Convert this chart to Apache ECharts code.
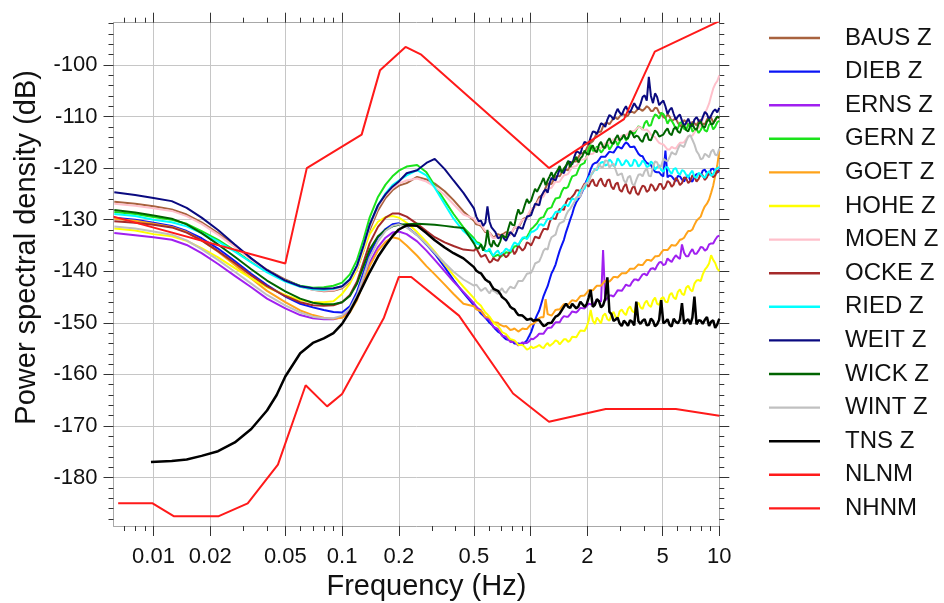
<!DOCTYPE html>
<html>
<head>
<meta charset="utf-8">
<title>Power spectral density</title>
<script src="https://cdn.jsdelivr.net/npm/echarts@6/dist/echarts.min.js"></script>
<style>
  html, body { margin: 0; padding: 0; background: #ffffff; }
  #chart { width: 944px; height: 603px; }
</style>
</head>
<body>
<div id="chart"></div>
<script>
// Frequency grids (Hz)
const freqLow = [0.0062, 0.008, 0.01, 0.0125, 0.015, 0.018, 0.022, 0.027, 0.033, 0.04, 0.05, 0.06, 0.07, 0.08, 0.09, 0.1, 0.11, 0.12, 0.13, 0.14, 0.155, 0.17, 0.185, 0.2, 0.22, 0.25, 0.28, 0.31, 0.35, 0.39, 0.44];
const freqHigh = [0.50, 0.53, 0.56, 0.59, 0.62, 0.65, 0.69, 0.72, 0.76, 0.80, 0.84, 0.88, 0.93, 0.98,
  1.03, 1.08, 1.14, 1.20, 1.26, 1.32, 1.39, 1.46, 1.54, 1.62, 1.70, 1.79, 1.88, 1.98,
  2.08, 2.19, 2.30, 2.42, 2.55, 2.68, 2.82, 2.96,
  3.12, 3.28, 3.45, 3.63, 3.82, 4.02, 4.23, 4.45, 4.68, 4.92,
  5.18, 5.45, 5.73, 6.03, 6.34, 6.67, 7.02, 7.38, 7.77, 8.17, 8.60, 9.05, 9.51, 10.0];
// in-between samples of the high band
const freqMid = [0.515, 0.545, 0.575, 0.605, 0.635, 0.67, 0.705, 0.74, 0.78, 0.82, 0.86, 0.905, 0.955, 1.005,
  1.055, 1.11, 1.17, 1.23, 1.29, 1.355, 1.425, 1.50, 1.58, 1.66, 1.745, 1.835, 1.93, 2.03,
  2.135, 2.245, 2.36, 2.485, 2.615, 2.75, 2.89, 3.04,
  3.20, 3.365, 3.54, 3.725, 3.92, 4.125, 4.34, 4.565, 4.80, 5.05,
  5.315, 5.59, 5.88, 6.185, 6.505, 6.845, 7.20, 7.575, 7.97, 8.385, 8.825, 9.28, 9.755];
const tnsFreqLow = [0.0097, 0.0125, 0.015, 0.018, 0.022, 0.027, 0.033, 0.04, 0.045, 0.05, 0.06, 0.07, 0.08, 0.09, 0.1, 0.11, 0.12, 0.13, 0.14, 0.155, 0.17, 0.185, 0.2, 0.22, 0.25, 0.28, 0.31, 0.35, 0.39, 0.44];

// Station PSD levels (dB)
const bausLow = [-126.5, -126.9, -127.4, -128.0, -129.0, -130.5, -132.6, -135.0, -137.6, -139.7, -141.6, -142.9, -143.6, -143.9, -143.8, -143.3, -142.0, -139.6, -136.0, -132.0, -128.2, -125.8, -124.3, -123.4, -122.9, -121.7, -122.2, -123.0, -124.5, -126.2, -128.4];
const bausHigh = [-130.2, -131.0, -131.8, -132.5, -133.0, -133.3, -133.0, -132.7, -132.6, -132.3, -131.5, -130.9, -129.7, -128.9,
  -127.8, -126.5, -125.3, -123.8, -122.9, -122.3, -121.5, -120.9, -120.3, -119.4, -118.6, -117.9, -117.1, -116.2,
  -115.1, -114.0, -112.8, -111.9, -111.2, -110.9, -110.2, -110.0,
  -109.6, -109.8, -109.1, -108.9, -108.6, -108.5, -108.3, -108.9, -108.4, -109.4,
  -110.3, -110.0, -110.6, -111.2, -111.5, -111.0, -111.7, -111.3, -110.9, -111.4, -110.6, -110.2, -110.8, -110.3];
const bausMid = [-130.9, -131.2, -132.4, -132.5, -133.5, -132.8, -133.3, -132.4, -132.9, -131.5, -131.6, -130.0, -129.6, -128.1,
  -127.4, -125.6, -124.9, -123.0, -123.1, -121.6, -121.6, -120.3, -120.4, -118.7, -118.7, -117.2, -117.0, -115.4,
  -114.8, -113.1, -112.9, -111.3, -111.5, -110.3, -110.5, -109.5,
  -110.0, -109.1, -109.3, -108.4, -108.9, -108.0, -108.9, -108.3, -109.3, -110.1,
  -109.6, -110.9, -110.4, -111.9, -110.7, -111.8, -111.0, -111.7, -110.6, -111.5, -110.0, -111.1, -110.0];

const diebLow = [-129.6, -130.0, -130.6, -131.2, -132.2, -133.6, -135.6, -138.0, -140.5, -142.7, -144.9, -146.3, -147.0, -147.5, -147.9, -148.0, -146.8, -144.0, -140.2, -136.6, -133.4, -131.8, -130.9, -130.7, -131.4, -133.0, -134.8, -136.6, -139.2, -141.7, -144.2];
const diebHigh = [-146.6, -147.6, -148.6, -149.5, -150.3, -151.2, -152.0, -152.8, -153.3, -153.6, -154.0, -154.3, -153.8, -152.6,
  -150.7, -148.5, -146.2, -143.8, -141.6, -139.7, -137.3, -135.0, -132.4, -130.0, -127.6, -126.0, -124.5, -122.4,
  -120.2, -119.0, -118.4, -117.8, -117.3, -116.9, -116.4, -116.0,
  -115.5, -115.3, -115.9, -116.5, -117.6, -118.5, -119.2, -120.1, -120.8, -121.3,
  -116.6, -121.4, -122.1, -121.5, -122.2, -121.8, -122.4, -121.6, -121.1, -120.5, -121.0, -120.2, -120.7, -120.3];
const diebMid = [-147.0, -148.2, -149.0, -150.0, -150.6, -151.7, -152.3, -153.2, -153.3, -154.0, -154.0, -154.2, -153.4, -151.8,
  -149.4, -147.6, -144.8, -142.9, -140.4, -138.7, -136.0, -133.9, -131.2, -128.9, -126.6, -125.4, -123.3, -121.4,
  -119.3, -118.9, -117.8, -117.8, -116.8, -117.0, -115.8, -116.2,
  -115.0, -115.9, -115.8, -117.2, -117.7, -119.0, -119.4, -120.7, -120.8, -121.6,
  -121.8, -121.6, -122.5, -121.6, -122.6, -121.4, -122.6, -121.2, -121.5, -120.3, -121.3, -120.1, -120.9];

const ernsLow = [-132.6, -133.0, -133.4, -133.9, -134.9, -136.5, -138.6, -140.9, -143.1, -145.3, -147.2, -148.5, -149.1, -149.3, -149.3, -148.9, -147.6, -145.2, -141.8, -138.4, -135.3, -133.5, -132.5, -132.3, -132.8, -134.2, -136.0, -137.8, -140.0, -142.0, -144.0];
const ernsHigh = [-146.2, -147.3, -148.3, -149.2, -150.1, -151.0, -151.9, -152.6, -153.2, -153.7, -154.0, -154.1, -153.9, -153.6,
  -153.2, -152.6, -152.1, -151.5, -150.9, -150.4, -149.9, -149.2, -148.8, -148.3, -147.9, -147.6, -147.1, -146.8,
  -146.4, -146.1, -145.6, -135.9, -145.2, -144.7, -144.3, -143.8,
  -143.2, -142.8, -142.1, -141.6, -141.2, -140.5, -140.1, -139.4, -138.9, -138.2,
  -138.6, -137.9, -137.5, -137.3, -134.8, -137.1, -136.3, -136.6, -136.0, -135.4, -135.7, -134.6, -133.9, -133.1];
const ernsMid = [-146.9, -147.6, -149.0, -149.4, -150.8, -151.2, -152.5, -152.7, -153.7, -153.6, -154.4, -153.8, -153.9, -153.1,
  -153.2, -152.1, -152.1, -151.0, -150.9, -149.9, -149.9, -148.7, -148.8, -147.8, -148.0, -147.1, -147.2, -146.3,
  -146.5, -145.6, -145.9, -145.7, -144.7, -144.9, -143.7, -143.8,
  -142.6, -142.8, -141.6, -141.8, -140.6, -140.8, -139.5, -139.7, -138.3, -138.8,
  -137.5, -138.2, -136.9, -137.6, -136.4, -137.1, -135.7, -136.6, -135.3, -136.0, -134.8, -134.6, -133.3];

const gernLow = [-128.5, -128.9, -129.5, -130.0, -130.8, -132.2, -133.9, -136.0, -138.2, -140.0, -141.8, -142.8, -143.2, -143.1, -142.8, -142.2, -140.6, -137.8, -133.8, -129.6, -125.6, -123.2, -121.6, -120.5, -119.7, -119.4, -120.8, -123.4, -126.3, -128.9, -131.5];
const gernHigh = [-133.6, -134.5, -135.5, -136.1, -136.6, -137.0, -137.2, -136.8, -136.4, -135.8, -135.1, -134.3, -133.5, -132.6,
  -131.5, -130.7, -129.6, -128.6, -127.8, -126.7, -125.8, -124.6, -123.9, -122.5, -121.5, -120.3, -119.4, -117.6,
  -115.5, -116.8, -116.2, -116.5, -115.3, -115.8, -114.6, -114.9,
  -113.7, -114.2, -113.0, -112.6, -112.1, -111.3, -111.8, -110.4, -109.8, -109.3,
  -110.2, -110.6, -111.5, -112.3, -111.1, -112.6, -111.4, -112.7, -113.2, -111.8, -112.9, -111.3, -112.0, -110.8];
const gernMid = [-134.3, -134.8, -136.0, -136.0, -137.2, -136.8, -137.4, -136.3, -136.4, -135.2, -135.0, -133.7, -133.4, -131.8,
  -131.4, -129.9, -129.5, -127.9, -127.6, -125.9, -125.7, -123.8, -123.6, -121.6, -121.3, -119.4, -119.0, -116.2,
  -116.6, -115.8, -117.0, -115.6, -116.4, -114.9, -115.6, -113.9,
  -114.6, -113.3, -113.4, -111.9, -112.5, -110.8, -111.7, -109.6, -110.4, -109.5,
  -111.4, -110.8, -112.4, -111.2, -112.4, -111.5, -112.9, -112.4, -112.6, -112.7, -111.6, -112.5, -111.1];

const goetLow = [-129.8, -130.2, -130.8, -131.4, -132.4, -134.0, -136.2, -138.8, -141.4, -143.8, -146.0, -147.6, -148.5, -149.0, -149.2, -149.0, -148.0, -145.6, -142.2, -139.0, -136.0, -134.3, -133.4, -133.7, -135.0, -137.0, -139.0, -140.6, -142.6, -144.4, -146.3];
const goetHigh = [-146.8, -147.6, -148.2, -148.9, -149.5, -149.9, -150.4, -150.7, -151.0, -151.3, -151.4, -151.5, -151.2, -150.7,
  -150.2, -149.6, -148.9, -145.4, -148.6, -148.1, -147.4, -146.9, -146.4, -146.0, -145.7, -145.3, -144.8, -144.2,
  -143.8, -143.2, -142.8, -142.3, -142.0, -141.6, -141.1, -140.9,
  -140.4, -140.0, -139.5, -139.1, -138.8, -138.3, -137.8, -137.6, -137.1, -136.4,
  -135.9, -135.4, -135.0, -134.5, -133.8, -132.8, -132.2, -131.0, -129.8, -128.3, -126.9, -124.8, -121.5, -116.6];
const goetMid = [-147.4, -147.7, -148.8, -149.0, -149.9, -150.0, -150.7, -150.6, -151.4, -151.1, -151.7, -151.1, -151.2, -150.3,
  -150.1, -149.1, -148.9, -148.3, -148.6, -147.5, -147.4, -146.4, -146.5, -145.6, -145.8, -144.8, -144.7, -143.7,
  -143.7, -142.8, -142.8, -141.8, -142.0, -141.1, -141.2, -140.4,
  -140.4, -139.5, -139.5, -138.7, -138.8, -137.8, -138.0, -137.1, -137.0, -135.9,
  -135.9, -134.9, -135.0, -133.9, -133.5, -132.2, -131.9, -130.2, -129.4, -127.4, -126.1, -123.4, -119.5];

const hoheLow = [-131.7, -132.1, -132.8, -133.2, -134.1, -135.5, -137.3, -139.4, -141.4, -143.1, -144.6, -145.6, -146.0, -146.0, -145.8, -144.4, -142.4, -139.6, -136.0, -132.8, -130.4, -129.5, -129.3, -129.6, -130.6, -132.4, -134.3, -136.2, -138.6, -140.8, -143.0];
const hoheHigh = [-145.2, -146.3, -147.4, -148.4, -149.4, -150.3, -151.2, -152.0, -152.7, -153.3, -153.8, -154.3, -154.7, -155.0,
  -154.9, -154.6, -154.7, -154.3, -154.5, -153.9, -153.6, -153.9, -153.2, -153.4, -152.6, -152.1, -151.5, -150.8,
  -147.5, -150.2, -149.5, -148.6, -149.3, -148.4, -148.9, -147.8,
  -148.1, -147.3, -147.7, -146.6, -147.0, -146.2, -146.6, -145.7, -146.3, -145.3,
  -145.9, -144.6, -145.1, -144.0, -144.4, -143.2, -143.6, -142.4, -141.7, -140.6, -139.2, -136.9, -138.4, -140.0];
const hoheMid = [-145.9, -146.7, -148.0, -148.8, -150.0, -150.6, -151.8, -152.2, -153.2, -153.4, -154.3, -154.3, -155.2, -154.6,
  -155.1, -154.3, -154.9, -153.9, -154.6, -153.4, -154.2, -153.2, -153.7, -152.7, -152.8, -151.5, -151.6, -149.6,
  -149.6, -149.0, -150.1, -148.2, -149.6, -147.9, -149.2, -147.4,
  -148.5, -146.8, -148.0, -146.1, -147.3, -145.7, -146.9, -145.1, -146.5, -145.0,
  -146.0, -144.2, -145.4, -143.5, -144.6, -142.8, -143.9, -141.8, -141.9, -139.7, -138.5, -137.8, -139.5];

const moenLow = [-126.9, -127.3, -127.8, -128.3, -129.3, -130.8, -132.9, -135.3, -137.8, -139.9, -141.8, -143.0, -143.6, -143.8, -143.7, -143.1, -141.8, -139.3, -135.6, -131.5, -127.6, -125.3, -123.9, -123.0, -122.4, -122.0, -122.6, -123.6, -125.2, -127.0, -129.0];
const moenHigh = [-129.8, -130.8, -131.6, -132.3, -133.2, -133.7, -133.4, -133.1, -132.9, -132.2, -131.6, -130.7, -129.9, -128.6,
  -127.9, -126.9, -125.8, -124.7, -123.9, -123.2, -122.7, -122.0, -121.3, -120.4, -119.6, -119.1, -118.2, -117.9,
  -117.2, -116.8, -116.1, -115.7, -115.2, -114.8, -114.5, -114.2,
  -113.6, -113.3, -112.8, -112.4, -112.1, -112.6, -112.9, -113.8, -114.6, -115.3,
  -115.9, -116.4, -116.1, -115.6, -115.1, -114.4, -113.8, -113.1, -112.2, -110.6, -108.5, -106.0, -103.7, -102.0];
const moenMid = [-130.5, -130.9, -132.2, -132.5, -133.6, -133.3, -133.5, -132.7, -132.8, -131.6, -131.4, -130.0, -129.5, -127.9,
  -127.6, -126.1, -125.5, -124.0, -123.8, -122.6, -122.6, -121.4, -121.1, -119.8, -119.6, -118.4, -118.3, -117.3,
  -117.2, -116.2, -116.1, -115.2, -115.2, -114.4, -114.6, -113.7,
  -113.6, -112.8, -112.8, -112.0, -112.5, -112.5, -113.5, -114.0, -115.1, -115.4,
  -116.4, -115.9, -116.2, -115.1, -115.0, -113.8, -113.7, -112.4, -111.7, -109.4, -107.5, -104.6, -103.1];

const ockeLow = [-130.3, -130.6, -131.0, -131.5, -132.5, -134.0, -136.1, -138.4, -140.8, -142.9, -144.8, -146.0, -146.6, -146.7, -146.6, -146.0, -144.6, -142.0, -138.2, -134.6, -131.4, -129.6, -128.8, -128.8, -129.4, -130.8, -132.2, -133.4, -134.4, -135.1, -135.8];
const ockeHigh = [-136.0, -136.4, -137.0, -137.6, -138.1, -137.8, -137.2, -136.5, -136.9, -135.8, -136.1, -135.2, -135.5, -134.6,
  -134.2, -133.4, -132.6, -131.8, -130.5, -129.6, -128.7, -127.8, -126.6, -126.0, -125.1, -124.3, -123.8, -123.2,
  -122.7, -123.3, -122.5, -123.1, -122.4, -123.6, -123.1, -124.2,
  -123.6, -124.5, -123.9, -124.8, -124.2, -123.6, -124.3, -123.5, -124.0, -123.1,
  -123.6, -122.8, -123.2, -122.4, -122.9, -122.0, -122.5, -121.7, -122.1, -121.4, -121.8, -121.0, -121.4, -120.8];
const ockeMid = [-135.6, -137.2, -136.8, -138.3, -137.4, -138.0, -136.4, -137.3, -135.9, -136.7, -135.0, -136.0, -134.4, -135.0,
  -133.3, -133.6, -131.8, -131.9, -129.6, -129.9, -127.9, -128.1, -125.9, -126.1, -124.3, -124.5, -123.0, -123.6,
  -122.2, -123.5, -122.0, -123.6, -122.2, -124.1, -122.8, -124.6,
  -123.0, -125.0, -123.4, -125.2, -123.4, -124.6, -123.1, -124.4, -123.1, -124.1,
  -122.5, -123.6, -121.9, -123.3, -121.8, -122.9, -121.4, -122.6, -121.2, -122.3, -120.8, -121.8, -120.5];

const riedLow = [-128.9, -129.3, -130.0, -130.5, -131.3, -132.6, -134.2, -136.2, -138.3, -140.2, -142.0, -143.0, -143.5, -143.6, -143.4, -142.9, -141.5, -138.9, -135.0, -131.0, -127.2, -124.9, -123.3, -122.4, -121.4, -120.4, -121.4, -123.8, -127.0, -129.8, -132.2];
const riedHigh = [-134.0, -134.8, -135.6, -136.1, -136.5, -136.4, -136.8, -136.2, -135.9, -135.1, -134.6, -134.2, -133.4, -133.1,
  -132.3, -131.8, -130.9, -130.5, -129.6, -129.2, -128.4, -127.8, -127.1, -126.6, -126.0, -125.1, -124.2, -122.8,
  -121.4, -120.1, -119.6, -118.8, -119.3, -118.7, -119.4, -118.6,
  -119.2, -118.8, -119.5, -118.7, -119.3, -118.9, -119.6, -119.1, -119.8, -120.4,
  -119.9, -120.6, -120.2, -120.9, -120.4, -121.3, -121.0, -121.7, -120.9, -121.6, -121.0, -121.5, -120.4, -119.8];
const riedMid = [-134.6, -135.0, -136.1, -135.6, -137.0, -136.0, -137.1, -135.6, -136.1, -134.4, -134.9, -133.5, -133.8, -132.4,
  -132.5, -131.0, -131.2, -129.8, -129.9, -128.5, -128.6, -127.2, -127.4, -125.9, -126.2, -124.3, -124.0, -121.9,
  -120.9, -120.4, -118.9, -119.5, -118.3, -119.6, -118.1, -119.5,
  -118.4, -119.6, -118.3, -119.7, -118.5, -119.8, -118.7, -120.3, -119.4, -120.7,
  -119.8, -121.1, -120.0, -121.3, -120.6, -121.8, -120.5, -121.9, -121.2, -121.9, -120.6, -121.2, -120.0];

const weitLow = [-124.7, -125.2, -125.8, -126.4, -127.7, -129.6, -132.0, -134.8, -137.5, -139.8, -141.8, -142.9, -143.3, -143.4, -143.3, -142.9, -141.6, -138.9, -135.0, -131.0, -127.2, -125.1, -123.6, -122.6, -121.0, -120.4, -119.0, -118.2, -120.2, -122.4, -124.8];
const weitHigh = [-127.8, -130.3, -131.2, -127.4, -131.5, -132.4, -133.4, -133.6, -133.2, -132.8, -132.4, -131.6, -130.5, -129.3,
  -128.0, -126.9, -125.4, -124.1, -122.9, -122.0, -121.3, -120.4, -119.7, -118.8, -117.9, -116.9, -115.9, -115.1,
  -114.0, -113.0, -112.4, -111.5, -110.6, -110.0, -109.4, -109.2,
  -108.7, -108.9, -108.3, -108.1, -107.6, -105.9, -102.3, -107.4, -106.2, -107.3,
  -108.0, -108.7, -109.5, -110.0, -110.8, -111.2, -111.4, -110.6, -110.8, -110.1, -109.5, -109.8, -108.6, -108.3];
const weitMid = [-129.4, -130.2, -130.6, -130.4, -131.2, -133.6, -132.9, -134.1, -132.4, -133.3, -131.4, -131.8, -129.4, -129.1,
  -126.9, -127.2, -124.6, -124.8, -121.9, -122.4, -120.2, -121.0, -118.7, -119.3, -116.8, -117.2, -114.9, -115.3,
  -112.9, -113.4, -111.3, -112.0, -109.7, -110.6, -108.5, -109.7,
  -108.0, -109.2, -107.4, -108.6, -106.2, -106.9, -106.0, -105.5, -107.8, -106.9,
  -109.5, -108.3, -110.6, -109.6, -111.8, -110.4, -111.9, -110.1, -111.2, -109.1, -110.6, -109.0, -109.2];

const wickLow = [-128.1, -128.6, -129.2, -129.8, -130.9, -132.6, -134.8, -137.2, -139.6, -141.8, -143.9, -145.3, -146.1, -146.4, -146.4, -146.0, -144.8, -142.4, -139.0, -135.8, -133.2, -132.0, -131.3, -131.0, -130.9, -130.8, -130.9, -131.0, -131.2, -131.4, -131.6];
const wickHigh = [-134.6, -135.6, -136.0, -132.0, -135.3, -134.8, -134.2, -133.2, -131.8, -131.0, -129.3, -128.9, -127.2, -126.8,
  -125.1, -124.6, -122.8, -123.3, -121.6, -121.9, -120.4, -120.9, -119.5, -119.8, -118.6, -118.9, -117.7, -117.2,
  -116.2, -116.6, -115.5, -115.9, -114.8, -115.1, -114.2, -114.6,
  -113.5, -114.2, -113.2, -113.7, -114.6, -113.8, -114.5, -113.6, -113.1, -113.7,
  -112.8, -113.3, -112.4, -112.9, -112.0, -112.6, -111.8, -112.3, -111.4, -111.9, -111.0, -111.5, -110.6, -110.2];
const wickMid = [-135.5, -134.8, -134.9, -134.6, -134.0, -135.2, -133.0, -133.5, -130.4, -131.1, -128.0, -128.6, -126.0, -126.3,
  -124.0, -123.7, -121.9, -122.4, -120.8, -121.0, -119.6, -120.1, -118.6, -119.0, -117.8, -118.1, -116.6, -117.4,
  -115.6, -116.9, -114.9, -116.1, -114.2, -115.3, -113.6, -114.3,
  -114.3, -112.8, -114.1, -113.9, -114.9, -113.2, -114.6, -112.7, -113.9, -113.5,
  -112.3, -113.6, -112.0, -113.2, -111.7, -112.9, -111.3, -112.6, -111.0, -112.1, -110.5, -111.4, -110.0];

const wintLow = [-131.3, -131.7, -132.3, -132.9, -134.0, -135.7, -137.8, -140.1, -142.4, -144.6, -146.6, -148.0, -148.8, -149.1, -149.1, -148.6, -147.2, -144.6, -141.0, -137.4, -134.2, -132.2, -131.2, -130.9, -131.5, -133.0, -134.7, -136.4, -138.4, -140.1, -141.6];
const wintHigh = [-142.8, -143.2, -143.5, -143.8, -143.6, -144.0, -143.7, -143.9, -143.5, -143.2, -142.6, -142.0, -141.2, -140.4,
  -139.5, -138.2, -137.1, -135.6, -134.3, -133.1, -131.5, -130.4, -129.1, -127.9, -126.6, -125.6, -124.2, -122.9,
  -121.6, -120.4, -119.0, -119.8, -118.6, -119.4, -120.3, -121.2,
  -122.4, -121.8, -123.0, -122.3, -121.2, -120.6, -121.5, -119.8, -118.9, -119.6,
  -118.5, -117.9, -117.2, -116.3, -115.7, -114.8, -113.6, -115.4, -117.3, -118.1, -117.5, -116.8, -117.4, -116.2];
const wintMid = [-142.6, -143.8, -143.2, -144.3, -143.4, -144.4, -143.3, -144.2, -143.0, -143.3, -141.9, -141.9, -140.5, -140.3,
  -138.5, -138.1, -136.0, -135.8, -133.4, -132.9, -130.7, -130.3, -128.3, -127.8, -125.7, -125.5, -123.3, -122.8,
  -120.7, -120.1, -119.8, -118.5, -119.9, -119.1, -121.4, -121.0,
  -122.9, -121.5, -123.4, -121.3, -121.6, -120.0, -121.6, -118.7, -119.9, -118.2,
  -118.7, -116.9, -117.4, -115.5, -115.9, -113.9, -114.5, -116.7, -118.3, -117.2, -117.9, -116.4, -117.5];

const tnsLow = [-177.0, -176.8, -176.5, -175.8, -174.9, -173.2, -170.6, -167.0, -164.0, -160.4, -155.9, -153.9, -153.0, -152.0, -150.2, -147.8, -145.2, -142.6, -140.2, -137.2, -135.0, -133.2, -131.9, -131.1, -131.2, -132.6, -134.0, -135.4, -136.5, -137.5];
const tnsHigh = [-139.2, -140.2, -141.0, -141.9, -142.8, -143.6, -144.4, -145.3, -146.2, -147.2, -148.0, -148.6, -149.0, -149.3,
  -149.6, -149.4, -150.1, -150.5, -150.2, -149.4, -148.6, -147.6, -146.3, -147.1, -146.2, -146.8, -145.7, -146.4,
  -143.6, -146.5, -145.8, -146.6, -141.2, -148.3, -149.4, -150.1,
  -149.6, -150.6, -149.8, -145.9, -150.2, -149.3, -150.4, -149.6, -150.3, -145.6,
  -149.8, -150.4, -149.2, -150.1, -146.2, -149.6, -150.3, -144.9, -149.5, -150.2, -148.9, -149.8, -151.0, -149.2];
const tnsMid = [-139.9, -140.4, -141.6, -142.1, -143.4, -143.8, -145.0, -145.6, -146.9, -147.4, -148.5, -148.6, -149.4, -149.2,
  -149.9, -149.5, -150.6, -150.1, -150.0, -148.8, -148.2, -146.9, -146.9, -146.3, -147.2, -145.9, -146.9, -145.1,
  -146.9, -145.4, -147.0, -145.3, -147.9, -149.6, -149.0, -150.6,
  -150.0, -149.5, -150.5, -149.7, -149.6, -150.5, -149.2, -150.7, -149.4, -150.1,
  -149.3, -150.7, -149.8, -149.4, -150.2, -149.3, -149.0, -150.3, -149.6, -149.4, -150.6, -149.5, -150.3];

// Peterson noise models
const nlnmFreq = [0.0065, 0.0099, 0.0128, 0.0222, 0.0316, 0.0457, 0.0641, 0.0833, 0.1, 0.1667, 0.2, 0.2326, 0.4167, 0.8065, 1.25, 2.5, 5.88, 10];
const nlnmValues = [-185, -185, -187.5, -187.5, -185, -177.5, -162.1, -166.2, -163.8, -149, -141.1, -141.1, -148.6, -163.7, -169.2, -166.7, -166.7, -168];
const nhnmFreq = [0.00614, 0.05, 0.065, 0.127, 0.159, 0.217, 0.263, 1.25, 3.125, 4.55, 10];
const nhnmValues = [-129.4, -138.5, -120, -113.5, -101, -96.5, -98, -120, -110.5, -97.4, -91.5];

// Axis ticks
const freqMajorTicks = [0.01, 0.02, 0.05, 0.1, 0.2, 0.5, 1, 2, 5, 10];
const freqMinorTicks = [0.007, 0.008, 0.009, 0.03, 0.04, 0.06, 0.07, 0.08, 0.09, 0.3, 0.4, 0.6, 0.7, 0.8, 0.9, 3, 4, 6, 7, 8, 9];
const dbMajorTicks = [-180, -170, -160, -150, -140, -130, -120, -110, -100];
const dbMinorTicks = [-188, -186, -184, -182, -178, -176, -174, -172, -168, -166, -164, -162, -158, -156, -154, -152, -148, -146, -144, -142, -138, -136, -134, -132, -128, -126, -124, -122, -118, -116, -114, -112, -108, -106, -104, -102, -98, -96, -94, -92];

const stations = [
  { name: 'BAUS Z', low: bausLow, high: bausHigh, mid: bausMid },
  { name: 'DIEB Z', low: diebLow, high: diebHigh, mid: diebMid },
  { name: 'ERNS Z', low: ernsLow, high: ernsHigh, mid: ernsMid },
  { name: 'GERN Z', low: gernLow, high: gernHigh, mid: gernMid },
  { name: 'GOET Z', low: goetLow, high: goetHigh, mid: goetMid },
  { name: 'HOHE Z', low: hoheLow, high: hoheHigh, mid: hoheMid },
  { name: 'MOEN Z', low: moenLow, high: moenHigh, mid: moenMid },
  { name: 'OCKE Z', low: ockeLow, high: ockeHigh, mid: ockeMid },
  { name: 'RIED Z', low: riedLow, high: riedHigh, mid: riedMid },
  { name: 'WEIT Z', low: weitLow, high: weitHigh, mid: weitMid },
  { name: 'WICK Z', low: wickLow, high: wickHigh, mid: wickMid },
  { name: 'WINT Z', low: wintLow, high: wintHigh, mid: wintMid }
];

const lineColors = {
  'BAUS Z': '#a8623e', 'DIEB Z': '#0a14f5', 'ERNS Z': '#a020f0', 'GERN Z': '#1be31b',
  'GOET Z': '#ffa31a', 'HOHE Z': '#ffff00', 'MOEN Z': '#ffc0cb', 'OCKE Z': '#a52a2a',
  'RIED Z': '#00ffff', 'WEIT Z': '#0a0a80', 'WICK Z': '#006400', 'WINT Z': '#c0c0c0',
  'TNS Z': '#000000', 'NLNM': '#ff1a1a', 'NHNM': '#ff1a1a'
};

const zip = (fs, vs) => {
  if (fs.length !== vs.length) throw new Error('length mismatch ' + fs.length + ' vs ' + vs.length);
  return fs.map((f, i) => [f, vs[i]]);
};
// alternate the regular high-band samples with the in-between ones
function interleave(a, b) {
  if (b.length !== a.length - 1) throw new Error('mid length ' + b.length);
  const out = [];
  a.forEach((v, i) => { out.push(v); if (i < b.length) out.push(b[i]); });
  return out;
}
const highFreqs = interleave(freqHigh, freqMid);

const series = stations.map(s => ({
  name: s.name,
  data: zip(freqLow.concat(highFreqs), s.low.concat(interleave(s.high, s.mid))),
  width: 2
}));
series.push({ name: 'TNS Z', data: zip(tnsFreqLow.concat(highFreqs), tnsLow.concat(interleave(tnsHigh, tnsMid))), width: 2.5 });
series.push({ name: 'NLNM', data: zip(nlnmFreq, nlnmValues), width: 2 });
series.push({ name: 'NHNM', data: zip(nhnmFreq, nhnmValues), width: 2 });

const xMin = 0.00614, xMax = 10;
const yMin = -189.4, yMax = -91.8;
const lg = Math.log10;
const FONT = 'Liberation Sans, Arial, sans-serif';
const frameColor = '#a8a8a8';
const gridColor = '#c6c6c6';
const tickColor = '#333333';

function freqLabel(v) {
  return String(parseFloat(Math.pow(10, v).toPrecision(6)));
}

function xDecor(position, ticks, len, opts) {
  return Object.assign({
    type: 'value', position: position, min: lg(xMin), max: lg(xMax),
    axisLine: { show: false, onZero: false },
    axisTick: { show: true, inside: false, length: len, customValues: ticks.map(lg), lineStyle: { color: tickColor, width: 1 } },
    axisLabel: { show: false },
    splitLine: { show: false }
  }, opts || {});
}
function yDecor(position, ticks, len, opts) {
  return Object.assign({
    type: 'value', position: position, min: yMin, max: yMax,
    axisLine: { show: false, onZero: false },
    axisTick: { show: true, inside: false, length: len, customValues: ticks, lineStyle: { color: tickColor, width: 1 } },
    axisLabel: { show: false },
    splitLine: { show: false }
  }, opts || {});
}
const frameLine = { show: true, onZero: false, lineStyle: { color: frameColor, width: 1 } };

const chart = echarts.init(document.getElementById('chart'), null, { renderer: 'canvas' });
chart.setOption({
  animation: false,
  backgroundColor: '#ffffff',
  textStyle: { fontFamily: FONT },
  grid: { left: 113.5, right: 224.7, top: 22.7, bottom: 77, containLabel: false, outerBoundsMode: 'none' },
  legend: {
    orient: 'vertical', left: 769, top: 25, padding: 0,
    itemWidth: 51, itemHeight: 14, itemGap: 7.6,
    selectedMode: false,
    icon: 'path://M0,5.8 L51,5.8 L51,8.2 L0,8.2 Z',
    textStyle: { fontSize: 24, color: '#111111', lineHeight: 26, padding: [0, 0, 0, 20], fontFamily: FONT },
    data: series.map(s => s.name)
  },
  xAxis: [
    { type: 'log', logBase: 10, min: xMin, max: xMax, show: false },
    xDecor('bottom', freqMajorTicks, 10, {
      axisLine: frameLine,
      axisLabel: { show: true, customValues: freqMajorTicks.map(lg), formatter: freqLabel, fontSize: 22, color: '#111111', margin: 20, fontFamily: FONT },
      splitLine: { show: true, lineStyle: { color: gridColor, width: 1 } },
      name: 'Frequency (Hz)', nameLocation: 'middle', nameGap: 46, nameMoveOverlap: false,
      nameTextStyle: { fontSize: 29, color: '#111111', fontFamily: FONT, padding: [0, 0, 0, 20] }
    }),
    xDecor('bottom', freqMinorTicks, 5),
    xDecor('top', freqMajorTicks, 10, { axisLine: frameLine }),
    xDecor('top', freqMinorTicks, 5)
  ],
  yAxis: [
    yDecor('left', dbMajorTicks, 10, {
      axisLine: frameLine,
      axisLabel: { show: true, customValues: dbMajorTicks, fontSize: 22, color: '#111111', margin: 16, fontFamily: FONT },
      splitLine: { show: true, lineStyle: { color: gridColor, width: 1 } },
      name: 'Power spectral density (dB)', nameLocation: 'middle', nameGap: 72, nameRotate: 90, nameMoveOverlap: false,
      nameTextStyle: { fontSize: 29, color: '#111111', fontFamily: FONT, padding: [0, 0, 0, 54] }
    }),
    yDecor('left', dbMinorTicks, 5),
    yDecor('right', dbMajorTicks, 10, { axisLine: frameLine }),
    yDecor('right', dbMinorTicks, 5)
  ],
  series: series.map(s => ({
    name: s.name,
    type: 'line',
    xAxisIndex: 0,
    yAxisIndex: 0,
    data: s.data,
    symbol: 'none',
    smooth: false,
    silent: true,
    lineStyle: { color: lineColors[s.name], width: s.width },
    itemStyle: { color: lineColors[s.name] }
  }))
});
</script>
</body>
</html>
